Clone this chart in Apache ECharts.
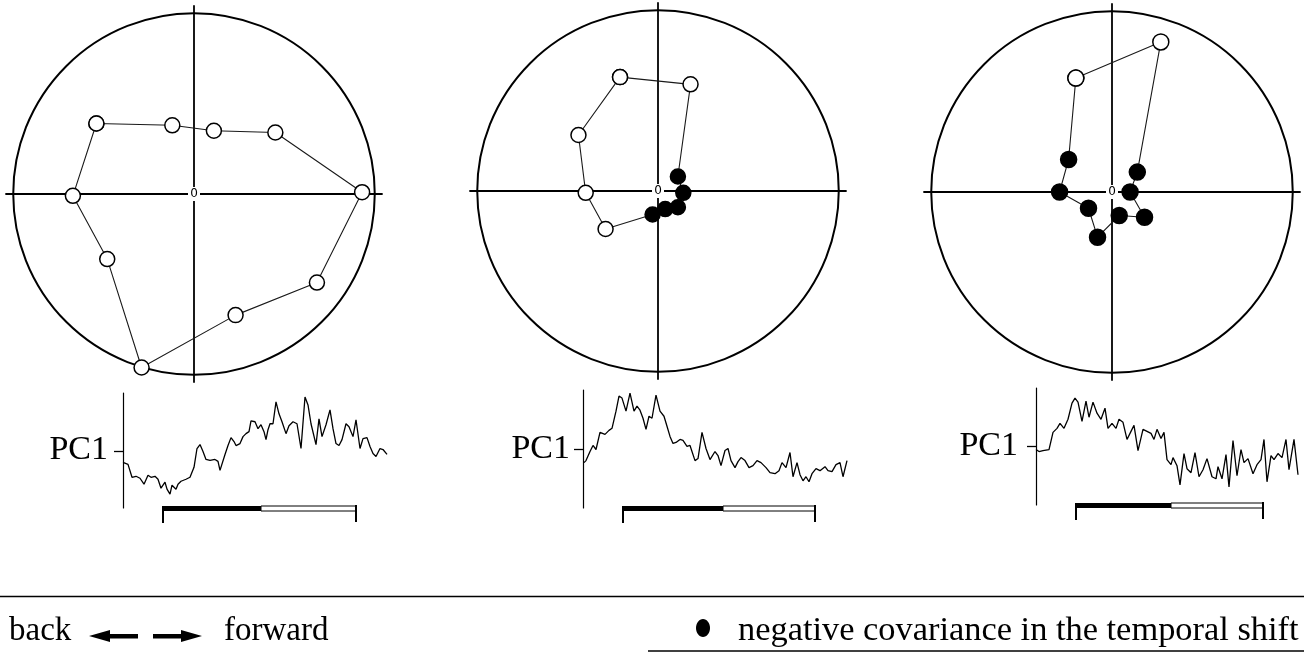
<!DOCTYPE html>
<html>
<head>
<meta charset="utf-8">
<script src="https://cdn.jsdelivr.net/npm/echarts@6/dist/echarts.min.js"></script>
<style>
  html, body { margin: 0; padding: 0; background: #fff; }
  #chart { width: 1304px; height: 665px; }
</style>
</head>
<body>
<div id="chart"></div>
<script>
// Trajectories in the unit circle (x, y), visited in order and closed back to the start
const loop1 = [[-0.54, 0.39], [-0.12, 0.38], [0.11, 0.35], [0.45, 0.34], [0.93, 0.01],
               [0.68, -0.49], [0.23, -0.67], [-0.29, -0.96], [-0.48, -0.36], [-0.67, -0.01]];
const neg1  = [0, 0, 0, 0, 0, 0, 0, 0, 0, 0];

const loop2 = [[-0.21, 0.63], [0.18, 0.59], [0.11, 0.08], [0.14, -0.01], [0.11, -0.09],
               [0.04, -0.10], [-0.03, -0.13], [-0.29, -0.21], [-0.40, -0.01], [-0.44, 0.31]];
const neg2  = [0, 0, 1, 1, 1, 1, 1, 0, 0, 0];

const loop3 = [[-0.20, 0.63], [0.27, 0.83], [0.14, 0.11], [0.10, 0.00], [0.18, -0.14],
               [0.04, -0.13], [-0.08, -0.25], [-0.13, -0.09], [-0.29, 0.00], [-0.24, 0.18]];
const neg3  = [0, 0, 1, 1, 1, 1, 1, 1, 1, 1];

// PC1 time courses: [time, PC1]
const pc1a = [[0,-1.1],[5,-1.3],[9,-2.6],[13,-2.5],[17,-2.7],[21,-3.3],[25,-2.4],[28,-2.6],[32,-2.5],[35,-2.8],
  [38,-3.7],[42,-3.1],[44,-3.8],[47,-4.3],[49,-3.4],[53,-3.8],[55,-3.3],[58,-3.0],[63,-2.8],[67,-2.6],
  [71,-1.6],[74,0.3],[77,0.7],[80,0.0],[83,-0.8],[87,-0.9],[92,-0.8],[95,-1.0],[97,-1.9],[102,-0.3],
  [105,0.6],[108,1.4],[111,1.0],[113,0.6],[117,0.8],[120,1.5],[123,1.8],[126,2.0],[128,3.1],[132,3.0],
  [135,2.3],[138,2.7],[141,2.0],[143,1.2],[145,2.2],[147,2.8],[150,2.8],[153,5.0],[156,3.8],[159,3.0],
  [163,1.8],[166,2.6],[170,3.0],[174,2.8],[178,0.3],[182,5.5],[185,4.7],[188,2.8],[193,0.7],[196,3.3],
  [199,1.5],[203,2.7],[207,4.2],[210,2.3],[213,0.8],[216,0.6],[219,1.2],[223,2.8],[226,2.5],[230,1.5],
  [233,3.2],[237,0.3],[240,1.3],[244,1.4],[247,0.5],[250,-0.2],[253,-0.5],[257,0.3],[260,0.2],[264,-0.3]];

const pc1b = [[1,-1.3],[3,-1.1],[7,-0.2],[10,0.4],[13,0.0],[17,1.7],[22,1.5],[26,1.9],[29,2.1],[33,3.8],
  [36,5.3],[39,5.1],[43,3.8],[47,5.6],[51,3.8],[54,4.3],[57,3.9],[60,3.1],[63,2.0],[66,3.3],
  [69,3.1],[73,5.4],[77,3.8],[81,3.3],[84,2.3],[87,1.3],[90,0.6],[93,0.7],[97,1.0],[100,0.9],
  [104,0.3],[107,0.4],[112,-1.1],[115,-0.9],[119,1.7],[123,0.1],[127,-1.0],[132,-0.2],[135,-0.6],[138,-1.6],
  [142,-0.1],[145,0.1],[148,-1.1],[152,-1.8],[155,-1.2],[158,-0.8],[162,-1.1],[166,-1.8],[170,-1.6],[174,-1.1],
  [178,-1.3],[183,-1.8],[187,-2.3],[192,-2.4],[196,-2.1],[199,-1.3],[203,-1.8],[207,-0.3],[210,-2.7],[214,-1.3],
  [217,-2.5],[220,-3.1],[223,-2.7],[226,-3.2],[229,-2.4],[233,-1.9],[237,-2.1],[242,-1.7],[245,-2.1],[249,-2.2],
  [253,-1.5],[257,-1.3],[260,-2.7],[264,-1.1]];

const pc1c = [[0,-0.3],[3,-0.5],[7,-0.4],[13,-0.3],[17,1.4],[21,1.8],[24,2.3],[28,1.8],[32,2.7],[36,4.3],
  [39,4.8],[42,4.4],[46,2.5],[50,4.5],[53,2.9],[57,4.4],[61,3.3],[65,2.7],[69,3.8],[72,1.8],
  [76,2.3],[80,1.8],[83,2.7],[87,2.4],[91,0.7],[95,1.5],[98,2.1],[102,-0.4],[107,1.7],[111,1.5],
  [115,1.3],[118,0.7],[121,1.7],[125,0.8],[128,1.4],[131,-1.3],[135,-1.8],[137,-1.1],[141,-1.9],[144,-3.8],
  [148,-0.7],[151,-2.2],[155,-2.6],[159,-0.6],[163,-3.0],[167,-2.3],[171,-1.2],[176,-3.0],[180,-3.2],[182,-2.0],
  [186,-3.2],[190,-0.8],[193,-4.0],[197,0.6],[201,-2.9],[205,-0.3],[208,-1.6],[212,-1.2],[217,-2.7],[221,-1.8],
  [225,-1.3],[228,0.7],[231,-3.5],[235,-0.9],[238,-1.3],[242,-0.7],[246,-1.1],[250,0.7],[253,-2.3],[258,0.7],[262,-2.8]];

// Stimulus periods under each trace: [start, switch, end]
const stim1 = [40, 138, 233];
const stim2 = [40, 140, 232];
const stim3 = [40, 135, 227];

// y-axis extents of the three PC1 panels
const pcRange = [[-5.7, 5.9], [-5.8, 5.9], [-5.8, 5.8]];

const SERIF = '"Liberation Serif", "DejaVu Serif", serif';

const circleGrids = [
  { left: 6,   top: 6, width: 376, height: 376 },
  { left: 470, top: 3, width: 376, height: 376 },
  { left: 924, top: 4, width: 376, height: 376 }
];
const traceGrids = [
  { left: 123,  top: 393, width: 265, height: 115 },
  { left: 583,  top: 390, width: 265, height: 118 },
  { left: 1036, top: 388, width: 265, height: 117 }
];
const pcNameGap = [15, 13, 18];

const loops = [loop1, loop2, loop3];
const negs = [neg1, neg2, neg3];
const traces = [pc1a, pc1b, pc1c];
const stims = [stim1, stim2, stim3];
const markerSize = [15, 15, 16];

const grid = [], xAxis = [], yAxis = [], series = [];

circleGrids.forEach((g, i) => {
  grid.push(Object.assign({ containLabel: false }, g));
  const ax = {
    gridIndex: i, type: 'value', min: -1.04, max: 1.04,
    axisLine: { show: true, onZero: true, lineStyle: { color: '#000', width: 1.8 } },
    axisTick: { show: false }, axisLabel: { show: false }, splitLine: { show: false }
  };
  xAxis.push(Object.assign({}, ax));
  yAxis.push(Object.assign({}, ax));

  // unit circle, plus the origin mark on a small white patch over the crossing axes
  series.push({
    type: 'custom', xAxisIndex: i, yAxisIndex: i, silent: true, z: 1,
    data: [[0, 0, 1]],
    renderItem: (params, api) => {
      const c = api.coord([api.value(0), api.value(1)]);
      const r = api.size([api.value(2), 0])[0];
      return {
        type: 'group',
        children: [
          { type: 'circle', shape: { cx: c[0], cy: c[1], r: r },
            style: { fill: 'none', stroke: '#000', lineWidth: 2 } },
          { type: 'rect', shape: { x: c[0] - 6, y: c[1] - 7, width: 12, height: 14 },
            style: { fill: '#fff' }, z2: 5 },
          { type: 'text', x: c[0], y: c[1],
            style: { text: '0', fill: '#000', font: '12px "DejaVu Sans", sans-serif',
                     align: 'center', verticalAlign: 'middle' }, z2: 6 }
        ]
      };
    }
  });

  // trajectory, closed back to its first point
  const pts = loops[i].map((p, k) => ({
    value: p,
    itemStyle: { color: negs[i][k] ? '#000' : '#fff' }
  }));
  pts.push(pts[0]);
  series.push({
    type: 'line', xAxisIndex: i, yAxisIndex: i, z: 3,
    data: pts, symbol: 'circle', symbolSize: markerSize[i], showAllSymbol: true,
    lineStyle: { color: '#1a1a1a', width: 1.1 },
    itemStyle: { borderColor: '#000', borderWidth: 1.5 },
    silent: true
  });
});

traceGrids.forEach((g, j) => {
  const i = j + 3;
  grid.push(Object.assign({ containLabel: false }, g));
  xAxis.push({ gridIndex: i, type: 'value', min: 0, max: 265, show: false });
  yAxis.push({
    gridIndex: i, type: 'value', min: pcRange[j][0], max: pcRange[j][1],
    axisLine: { show: true, onZero: false, lineStyle: { color: '#000', width: 1.2 } },
    axisTick: { show: true, customValues: [0], length: 9, lineStyle: { color: '#000', width: 1.3 } },
    axisLabel: { show: false }, splitLine: { show: false },
    name: 'PC1', nameLocation: 'middle', nameRotate: 0, nameGap: pcNameGap[j],
    nameTextStyle: { fontFamily: SERIF, fontSize: 34, color: '#000' }
  });
  series.push({
    type: 'line', xAxisIndex: i, yAxisIndex: i, data: traces[j],
    showSymbol: false, lineStyle: { color: '#000', width: 1.3 }, silent: true
  });
  // stimulus bar with bracket ends
  series.push({
    type: 'custom', xAxisIndex: i, yAxisIndex: i, silent: true, clip: false,
    data: [stims[j]],
    renderItem: (params, api) => {
      const cs = params.coordSys;
      const bottom = cs.y + cs.height;
      const xa = api.coord([api.value(0), 0])[0];
      const xb = api.coord([api.value(1), 0])[0];
      const xc = api.coord([api.value(2), 0])[0];
      const top = bottom - 2;
      return {
        type: 'group',
        children: [
          { type: 'rect', shape: { x: xb, y: top, width: xc - xb, height: 5 },
            style: { fill: '#fff', stroke: '#000', lineWidth: 1 } },
          { type: 'rect', shape: { x: xa, y: top, width: xb - xa, height: 5 },
            style: { fill: '#000' } },
          { type: 'line', shape: { x1: xa, y1: top, x2: xa, y2: bottom + 15 },
            style: { stroke: '#000', lineWidth: 2 } },
          { type: 'line', shape: { x1: xc, y1: top - 1, x2: xc, y2: bottom + 14 },
            style: { stroke: '#000', lineWidth: 2 } }
        ]
      };
    }
  });
});

const legendGraphics = [
  { type: 'line', shape: { x1: 0, y1: 596.5, x2: 1304, y2: 596.5 }, style: { stroke: '#000', lineWidth: 1.5 } },
  { type: 'line', shape: { x1: 648, y1: 651, x2: 1304, y2: 651 }, style: { stroke: '#000', lineWidth: 1.5 } },
  { type: 'text', x: 9, y: 631, style: { text: 'back', font: '33px ' + SERIF, fill: '#000', verticalAlign: 'middle' } },
  { type: 'polygon', shape: { points: [[89, 636], [110, 630], [110, 634], [138, 634], [138, 638.5], [110, 638.5], [110, 642]] },
    style: { fill: '#000' } },
  { type: 'polygon', shape: { points: [[202, 636], [181, 630], [181, 634], [153, 634], [153, 638.5], [181, 638.5], [181, 642]] },
    style: { fill: '#000' } },
  { type: 'text', x: 224, y: 631, style: { text: 'forward', font: '33px ' + SERIF, fill: '#000', verticalAlign: 'middle' } },
  { type: 'ellipse', shape: { cx: 703, cy: 628, rx: 7, ry: 9 }, style: { fill: '#000' } },
  { type: 'text', x: 738, y: 631, style: { text: 'negative covariance in the temporal shift', font: '34.4px ' + SERIF, fill: '#000', verticalAlign: 'middle' } }
];

const chart = echarts.init(document.getElementById('chart'), null, { renderer: 'canvas' });
chart.setOption({
  backgroundColor: '#fff',
  animation: false,
  grid: grid,
  xAxis: xAxis,
  yAxis: yAxis,
  series: series,
  graphic: legendGraphics
});
</script>
</body>
</html>
